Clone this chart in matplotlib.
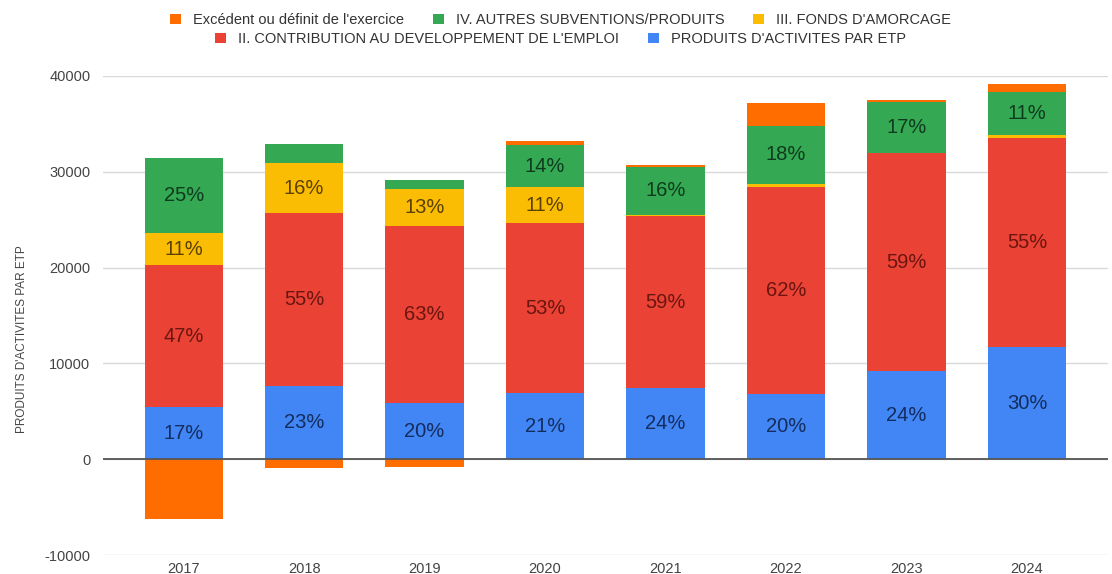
import numpy as np
import matplotlib
matplotlib.use("Agg")
import matplotlib.pyplot as plt
from matplotlib.ticker import FixedLocator

plt.rcParams['font.family'] = ['Liberation Sans', 'DejaVu Sans']

years = ['2017', '2018', '2019', '2020', '2021', '2022', '2023', '2024']

# values (per ETP)
produits = [5450, 7620, 5820, 6920, 7380, 6760, 9220, 11730]
contribution = [14800, 18040, 18520, 17690, 18010, 21650, 22700, 21800]
amorcage = [3370, 5290, 3900, 3760, 150, 300, 0, 300]
autres = [7770, 1950, 900, 4420, 4970, 6090, 5360, 4460]
excedent = [-6190, -870, -800, 450, 150, 2400, 200, 870]

# percentage labels as printed on the bars (None = no label)
pct_produits = [17, 23, 20, 21, 24, 20, 24, 30]
pct_contribution = [47, 55, 63, 53, 59, 62, 59, 55]
pct_amorcage = [11, 16, 13, 11, None, None, None, None]
pct_autres = [25, None, None, 14, 16, 18, 17, 11]

series = [
    ("PRODUITS D'ACTIVITES PAR ETP", produits, pct_produits, '#4285F4', '#132d5e'),
    ("II. CONTRIBUTION AU DEVELOPPEMENT DE L'EMPLOI", contribution, pct_contribution, '#EA4335', '#6a1510'),
    ("III. FONDS D'AMORCAGE", amorcage, pct_amorcage, '#FBBC04', '#5a4100'),
    ("IV. AUTRES SUBVENTIONS/PRODUITS", autres, pct_autres, '#34A853', '#0e3b1d'),
]

fig = plt.figure(figsize=(11.12, 5.74), dpi=100)
ax = fig.add_axes([0.0926, 0.0331, 0.9035, 0.8345])

x = np.arange(len(years))
width = 0.65
bottom = np.zeros(len(years))
handles = {}
for name, vals, pcts, color, txtcolor in series:
    vals = np.array(vals, dtype=float)
    b = ax.bar(x, vals, width, bottom=bottom, color=color, zorder=3, linewidth=0)
    handles[name] = b
    for i, p in enumerate(pcts):
        if p is None:
            continue
        ax.text(x[i], bottom[i] + vals[i] / 2, f"{p}%", ha='center', va='center',
                fontsize=14.5, color=txtcolor, zorder=4)
    bottom += vals

# excedent: negative goes under zero, positive sits on top of the stack
exc = np.array(excedent, dtype=float)
exc_bottom = np.where(exc < 0, 0, bottom)
b = ax.bar(x, exc, width, bottom=exc_bottom, color='#FF6D01', zorder=3, linewidth=0)
handles["Excédent ou définit de l'exercice"] = b

ax.set_xlim(-0.67, 7.67)
ax.set_ylim(-10000, 40000)
ax.yaxis.set_major_locator(FixedLocator([-10000, 0, 10000, 20000, 30000, 40000]))
ax.set_yticklabels(['-10000', '0', '10000', '20000', '30000', '40000'])
ax.set_xticks(x)
ax.set_xticklabels(years)
ax.tick_params(axis='both', length=0, labelsize=10.5, colors='#444444')
ax.tick_params(axis='y', pad=9)
ax.tick_params(axis='x', pad=5)
ax.grid(axis='y', color='#d9d9d9', linewidth=1, zorder=0)
ax.axhline(0, color='#555555', linewidth=1.3, zorder=5)
for s in ax.spines.values():
    s.set_visible(False)

ax.set_ylabel("PRODUITS D'ACTIVITES PAR ETP", fontsize=8.5, color='#444444')
ax.yaxis.set_label_coords(-0.075, 0.45)

row1 = ["Excédent ou définit de l'exercice", "IV. AUTRES SUBVENTIONS/PRODUITS", "III. FONDS D'AMORCAGE"]
row2 = ["II. CONTRIBUTION AU DEVELOPPEMENT DE L'EMPLOI", "PRODUITS D'ACTIVITES PAR ETP"]
leg1 = fig.legend([handles[n] for n in row1], row1, loc='center', bbox_to_anchor=(0.504, 0.965),
                  ncol=3, frameon=False, fontsize=10.5, handlelength=0.75, handleheight=0.75,
                  handletextpad=0.8, columnspacing=2.0, labelcolor='#333333')
leg2 = fig.legend([handles[n] for n in row2], row2, loc='center', bbox_to_anchor=(0.504, 0.932),
                  ncol=2, frameon=False, fontsize=10.5, handlelength=0.75, handleheight=0.75,
                  handletextpad=0.8, columnspacing=2.0, labelcolor='#333333')

fig.savefig('out.png', dpi=100)
